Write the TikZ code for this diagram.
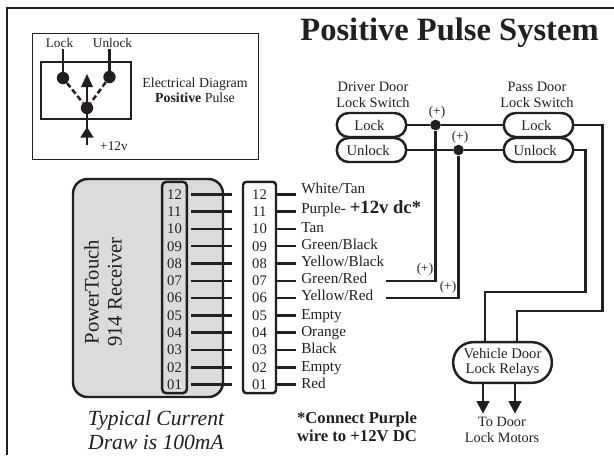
\documentclass[tikz,border=0pt]{standalone}
\usepackage{fontspec}
\setmainfont{Liberation Serif}
\usetikzlibrary{arrows.meta}
\definecolor{ink}{HTML}{231F20}
\tikzset{
 x=0.75pt,y=-0.75pt,
 wire/.style={draw=ink,line width=1.85pt},
 thin box/.style={draw=ink,line width=0.9pt},
 txt/.style={text=ink,inner sep=0pt,font=\fontsize{11.4}{13}\selectfont},
 lbl/.style={txt,anchor=base west},
 pin/.style={txt,font=\fontsize{11}{12}\selectfont},
 sw/.style={draw=ink,line width=1.85pt,rounded corners=8.8pt,minimum width=52pt,minimum height=18pt,inner sep=0pt,text=ink,font=\fontsize{11}{12}\selectfont},
 dotn/.style={circle,fill=ink,inner sep=0pt,minimum size=8pt},
 smalldot/.style={circle,fill=ink,inner sep=0pt,minimum size=9.3pt},
}
\begin{document}
\begin{tikzpicture}
\useasboundingbox (0,0) rectangle (614,455);
\fill[white] (0,0) rectangle (614,455);
% frame
\draw[ink,line width=1.7pt] (7,455) -- (7,8) -- (614,8);
% title
\node[txt,font=\bfseries\fontsize{24.4}{26}\selectfont] (title) at (449.5,33) {Positive Pulse System};
% inset
\node[thin box,minimum width=169pt,minimum height=95pt,inner sep=0pt] (inset) at (145.5,96.5) {};
\node[txt,font=\fontsize{10}{11}\selectfont] (lk) at (59.5,42.5) {Lock};
\node[txt,font=\fontsize{10}{11}\selectfont] (ul) at (112.5,42.5) {Unlock};
\node[draw=ink,line width=1.7pt,minimum width=67.5pt,minimum height=43pt,inner sep=0pt] (swbox) at (86,90.5) {};
\node[smalldot] (d1) at (63,78) {};
\node[smalldot] (d2) at (109.5,77) {};
\node[smalldot] (d3) at (87,108) {};
\coordinate (lk0) at (63,49);
\coordinate (ul0) at (109.5,49);
\coordinate (a2) at (87,145);
\draw[wire] (lk0) -- (d1);
\draw[wire] (ul0) -- (d2);
\draw[ink,line width=1.85pt,dash pattern=on 4pt off 2.2pt] (d1) -- (d3);
\draw[ink,line width=1.85pt,dash pattern=on 4pt off 2.2pt] (d2) -- (d3);
\draw[wire] (d3) -- (87,85);
\fill[ink] (87,74) -- (81,87) -- (93,87) -- cycle;
\draw[wire] (a2) -- (d3);
\fill[ink] (87,127) -- (80.3,137.5) -- (93.7,137.5) -- cycle;
\node[txt,font=\fontsize{10}{11}\selectfont] (v12) at (114,146) {+12v};
\node[txt,align=center,font=\fontsize{10.4}{11.25}\selectfont] (ed) at (195,90.5) {Electrical Diagram\\\textbf{Positive} Pulse};
% receiver
\node[draw=ink,line width=1.85pt,fill=black!14,rounded corners=11pt,minimum width=112.5pt,minimum height=163.5pt,inner sep=0pt] (rx) at (148,288) {};
\node[draw=ink,line width=1.85pt,rounded corners=3pt,minimum width=18.5pt,minimum height=158.5pt,inner sep=0pt] (rxpins) at (174.5,287.5) {};
\node[txt,rotate=90,align=center,font=\fontsize{15.5}{17.25}\selectfont] (rxt) at (103,292) {PowerTouch\\914 Receiver};
\node[draw=ink,fill=white,line width=1.85pt,rounded corners=2.5pt,minimum width=24.75pt,minimum height=158.5pt,inner sep=0pt] (term) at (259.5,287.5) {};
\foreach \n/\y/\ly/\t in {12/194.3/193/White\slash Tan,11/211.6/213/Purple- \textbf{\fontsize{14}{14}\selectfont +12v dc*},10/228.9/232/Tan,09/246.2/249/Green\slash Black,08/263.5/266/Yellow\slash Black,07/280.8/283/Green\slash Red,06/298.1/300/Yellow\slash Red,05/315.4/319/Empty,04/332.7/336/Orange,03/350/353/Black,02/367.3/371/Empty,01/384.6/388/Red}{
 \node[pin] (a\n) at (174.5,\y) {\n};
 \node[pin] (b\n) at (259.5,\y) {\n};
 \node[lbl] (l\n) at (301,\ly) {\t};
 \coordinate (wa\n) at (191,\y);
 \coordinate (wb\n) at (232,\y);
 \coordinate (wc\n) at (276,\y);
 \coordinate (wd\n) at (295.5,\y);
 \draw[wire] (wa\n) -- (wb\n);
 \draw[wire] (wc\n) -- (wd\n);
}
% switches
\node[txt,align=center,font=\fontsize{10.8}{12}\selectfont] (dd) at (373,95) {Driver Door\\Lock Switch};
\node[txt,align=center,font=\fontsize{10.8}{12}\selectfont] (pd) at (537,95) {Pass Door\\Lock Switch};
\node[sw] (dl) at (371.5,125) {\hspace{-3pt}Lock};
\node[sw] (du) at (371.5,150) {\hspace{-5pt}Unlock};
\node[sw] (pl) at (538.5,125) {\hspace{-3pt}Lock};
\node[sw] (pu) at (538.5,150) {\hspace{-5pt}Unlock};
\node[dotn] (j1) at (435.5,125) {};
\node[dotn] (j2) at (458.5,150) {};
\draw[wire] (dl) -- (j1) -- (pl);
\draw[wire] (du) -- (j2) -- (pu);
\node[txt,font=\fontsize{10}{11}\selectfont] (p1) at (437,112) {(+)};
\node[txt,font=\fontsize{10}{11}\selectfont] (p2) at (460,137) {(+)};
\node[txt,font=\fontsize{10}{11}\selectfont] (p3) at (425,269) {(+)};
\node[txt,font=\fontsize{10}{11}\selectfont] (p4) at (448,287) {(+)};
\coordinate (g0) at (385.5,280.8);
\coordinate (y0) at (385.5,298.1);
\draw[wire] (g0) -- (435.5,280.8) -- (j1);
\draw[wire] (y0) -- (458.5,298.1) -- (j2);
% relays
\node[draw=ink,line width=1.85pt,rounded corners=15pt,minimum width=74pt,minimum height=30.5pt,inner sep=0pt,align=center,text=ink,font=\fontsize{11}{11.25}\selectfont] (rel) at (502.5,362.5) {Vehicle Door\\Lock Relays};
\draw[wire] (pl.east) -- (602.5,125) -- (602.5,311) -- (517,311) -- (517,342);
\draw[wire] (pu.east) -- (585.5,150) -- (585.5,292) -- (485,292) -- (485,342);
\draw[wire] (483,383) -- (483,405);
\draw[wire] (515,383) -- (515,405);
\fill[ink] (483,413.5) -- (476.3,401) -- (489.7,401) -- cycle;
\fill[ink] (515,413.5) -- (508.3,401) -- (521.7,401) -- cycle;
\node[txt,align=center,font=\fontsize{10.7}{12}\selectfont] (tm) at (502,430) {To Door\\Lock Motors};
% notes
\node[txt,align=center,font=\itshape\fontsize{16.2}{18.5}\selectfont] (typ) at (156,430) {Typical Current\\Draw is 100mA};
\node[txt,align=center,font=\bfseries\fontsize{12.5}{13.5}\selectfont] (cp) at (357,427) {*Connect Purple\\wire to +12V DC};
\end{tikzpicture}
\end{document}
